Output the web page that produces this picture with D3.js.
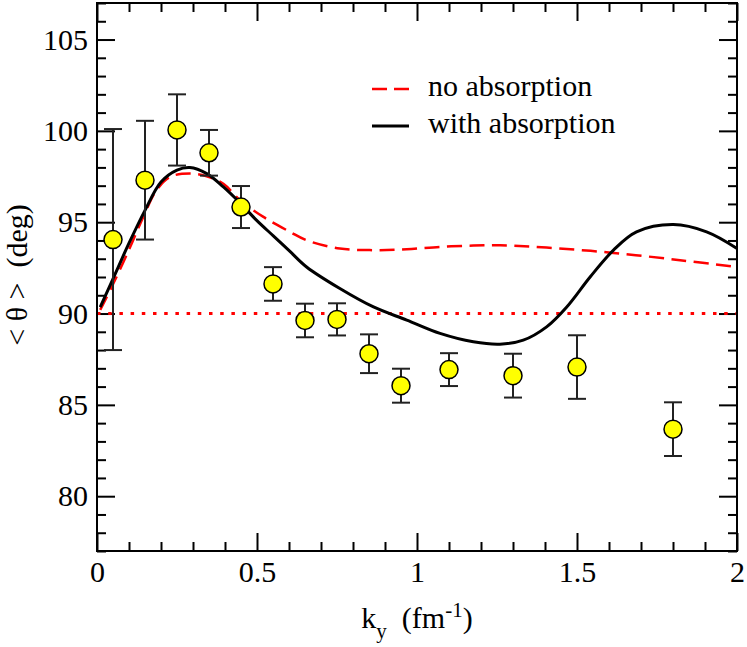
<!DOCTYPE html>
<html>
<head>
<meta charset="utf-8">
<script src="https://cdn.jsdelivr.net/npm/d3@7"></script>
<style>
  html, body { margin: 0; padding: 0; background: #fff; }
  svg { display: block; }
  svg text { font-family: "Liberation Serif", "Times New Roman", serif; fill: #000; }
</style>
</head>
<body>
<svg id="chart" width="747" height="647"></svg>
<script>
// ---- data ----
const dataK   = [0.05, 0.15, 0.25, 0.35, 0.45, 0.55, 0.65, 0.75, 0.85, 0.95, 1.1, 1.3, 1.5, 1.8];
const dataTheta = [94.05, 97.3, 100.05, 98.8, 95.83, 91.62, 89.62, 89.68, 87.8, 86.05, 86.93, 86.6, 87.07, 83.67];
const dataErr = [6.05, 3.25, 1.95, 1.25, 1.15, 0.92, 0.92, 0.88, 1.06, 0.93, 0.9, 1.2, 1.74, 1.47];

const withAbsK = [0.01, 0.05, 0.1, 0.15, 0.2, 0.25, 0.29, 0.343, 0.395, 0.449, 0.499, 0.551, 0.603, 0.655, 0.759, 0.864, 0.968, 1.072, 1.176, 1.259, 1.332, 1.405, 1.468, 1.541, 1.614, 1.686, 1.801, 1.905, 2.0];
const withAbsTheta = [90.35, 91.9, 93.85, 95.65, 97.2, 97.85, 97.99, 97.66, 96.93, 96.02, 95.1, 94.25, 93.4, 92.55, 91.37, 90.36, 89.64, 88.91, 88.45, 88.32, 88.54, 89.27, 90.36, 92.0, 93.47, 94.47, 94.87, 94.47, 93.56];

const noAbsK = [0.01, 0.05, 0.1, 0.145, 0.186, 0.228, 0.29, 0.343, 0.395, 0.447, 0.52, 0.603, 0.655, 0.759, 0.864, 0.968, 1.072, 1.176, 1.26, 1.405, 1.614, 1.822, 2.0];
const noAbsTheta = [90.2, 91.6, 93.5, 95.3, 96.75, 97.48, 97.66, 97.51, 97.1, 96.2, 95.29, 94.47, 94.01, 93.56, 93.47, 93.52, 93.65, 93.72, 93.74, 93.61, 93.32, 92.92, 92.55];

const refLine = 90;
const xMajor = [0, 0.5, 1, 1.5, 2];
const xMajorLabels = ["0", "0.5", "1", "1.5", "2"];
const yMajor = [80, 85, 90, 95, 100, 105];
const seriesNames = ["no absorption", "with absorption"];

// ---- layout ----
const L = 97, R = 737, T = 3, B = 551;
const FONT = '"Liberation Serif", "Times New Roman", serif';
const svg = d3.select("#chart");
const x = d3.scaleLinear().domain([0, 2]).range([L, R]);
const y = d3.scaleLinear().domain([77, 107]).range([B, T]);

const xMinor = d3.range(0, 21).map(i => i / 10).filter(v => Math.abs(v * 2 - Math.round(v * 2)) > 1e-6);
const yMinor = d3.range(77, 108).filter(v => v % 5 !== 0);

function styleAxis(g) {
  g.attr("font-family", FONT).attr("font-size", 30);
  g.select(".domain").remove();
  g.selectAll(".tick line").attr("stroke", "#000").attr("stroke-width", 2);
  g.selectAll(".tick text").attr("fill", "#000");
}

// bottom
svg.append("g").attr("transform", `translate(0,${B})`)
  .call(d3.axisBottom(x).tickValues(xMajor).tickFormat((d, i) => xMajorLabels[i]).tickSizeInner(-18).tickSizeOuter(0).tickPadding(10))
  .call(styleAxis);
svg.append("g").attr("transform", `translate(0,${B})`)
  .call(d3.axisBottom(x).tickValues(xMinor).tickFormat("").tickSizeInner(-9).tickSizeOuter(0))
  .call(styleAxis);
// top
svg.append("g").attr("transform", `translate(0,${T})`)
  .call(d3.axisTop(x).tickValues(xMajor).tickFormat("").tickSizeInner(-18).tickSizeOuter(0))
  .call(styleAxis);
svg.append("g").attr("transform", `translate(0,${T})`)
  .call(d3.axisTop(x).tickValues(xMinor).tickFormat("").tickSizeInner(-9).tickSizeOuter(0))
  .call(styleAxis);
// left
svg.append("g").attr("transform", `translate(${L},0)`)
  .call(d3.axisLeft(y).tickValues(yMajor).tickFormat(d3.format("d")).tickSizeInner(-18).tickSizeOuter(0).tickPadding(9))
  .call(styleAxis);
svg.append("g").attr("transform", `translate(${L},0)`)
  .call(d3.axisLeft(y).tickValues(yMinor).tickFormat("").tickSizeInner(-9).tickSizeOuter(0))
  .call(styleAxis);
// right
svg.append("g").attr("transform", `translate(${R},0)`)
  .call(d3.axisRight(y).tickValues(yMajor).tickFormat("").tickSizeInner(-18).tickSizeOuter(0))
  .call(styleAxis);
svg.append("g").attr("transform", `translate(${R},0)`)
  .call(d3.axisRight(y).tickValues(yMinor).tickFormat("").tickSizeInner(-9).tickSizeOuter(0))
  .call(styleAxis);

// clip
svg.append("defs").append("clipPath").attr("id", "plotclip")
  .append("rect").attr("x", L).attr("y", T).attr("width", R - L).attr("height", B - T);
const plot = svg.append("g").attr("clip-path", "url(#plotclip)");

// reference dotted line
plot.append("line")
  .attr("x1", x(0)).attr("x2", x(2)).attr("y1", y(refLine)).attr("y2", y(refLine))
  .attr("stroke", "#ff0000").attr("stroke-width", 3).attr("stroke-dasharray", "3.5,7.7");

const line = d3.line().x(d => x(d[0])).y(d => y(d[1])).curve(d3.curveCatmullRom.alpha(0.5));

plot.append("path").datum(noAbsK.map((k, i) => [k, noAbsTheta[i]]))
  .attr("d", line).attr("fill", "none").attr("stroke", "#ff0000").attr("stroke-width", 2.5)
  .attr("stroke-dasharray", "15,7.5");

plot.append("path").datum(withAbsK.map((k, i) => [k, withAbsTheta[i]]))
  .attr("d", line).attr("fill", "none").attr("stroke", "#000").attr("stroke-width", 3);

// error bars
const pts = dataK.map((k, i) => ({k, v: dataTheta[i], e: dataErr[i]}));
const eb = svg.append("g").attr("stroke", "#222").attr("stroke-width", 2);
const cap = 9;
pts.forEach(p => {
  eb.append("line").attr("x1", x(p.k)).attr("x2", x(p.k)).attr("y1", y(p.v - p.e)).attr("y2", y(p.v + p.e));
  eb.append("line").attr("x1", x(p.k) - cap).attr("x2", x(p.k) + cap).attr("y1", y(p.v + p.e)).attr("y2", y(p.v + p.e));
  eb.append("line").attr("x1", x(p.k) - cap).attr("x2", x(p.k) + cap).attr("y1", y(p.v - p.e)).attr("y2", y(p.v - p.e));
});
svg.append("g").selectAll("circle").data(pts).join("circle")
  .attr("cx", d => x(d.k)).attr("cy", d => y(d.v)).attr("r", 9)
  .attr("fill", "#ffff00").attr("stroke", "#000").attr("stroke-width", 1.5);

// frame
svg.append("rect").attr("x", L).attr("y", T).attr("width", R - L).attr("height", B - T)
  .attr("fill", "none").attr("stroke", "#000").attr("stroke-width", 2);

// legend
const lg = svg.append("g").attr("font-family", FONT);
lg.append("line").attr("x1", 372).attr("x2", 409).attr("y1", 89).attr("y2", 89)
  .attr("stroke", "#ff0000").attr("stroke-width", 2.5).attr("stroke-dasharray", "15,7");
lg.append("text").attr("x", 428).attr("y", 96).attr("font-size", 30).text(seriesNames[0]);
lg.append("line").attr("x1", 372).attr("x2", 409).attr("y1", 126).attr("y2", 126)
  .attr("stroke", "#000").attr("stroke-width", 3);
lg.append("text").attr("x", 428).attr("y", 133).attr("font-size", 30).text(seriesNames[1]);

// x title
const xt = svg.append("text").attr("x", 417).attr("y", 628).attr("text-anchor", "middle")
  .attr("font-family", FONT).attr("font-size", 30);
xt.append("tspan").text("k");
xt.append("tspan").attr("dy", 10).attr("font-size", 21).text("y");
xt.append("tspan").attr("dy", -10).text("\u00a0\u00a0(fm");
xt.append("tspan").attr("dy", -11).attr("font-size", 21).text("-1");
xt.append("tspan").attr("dy", 11).text(")");

// y title
svg.append("text").attr("transform", "translate(27,275) rotate(-90)").attr("text-anchor", "middle")
  .attr("font-family", FONT).attr("font-size", 30).text("< \u03b8 >\u00a0\u00a0(deg)");
</script>
</body>
</html>
